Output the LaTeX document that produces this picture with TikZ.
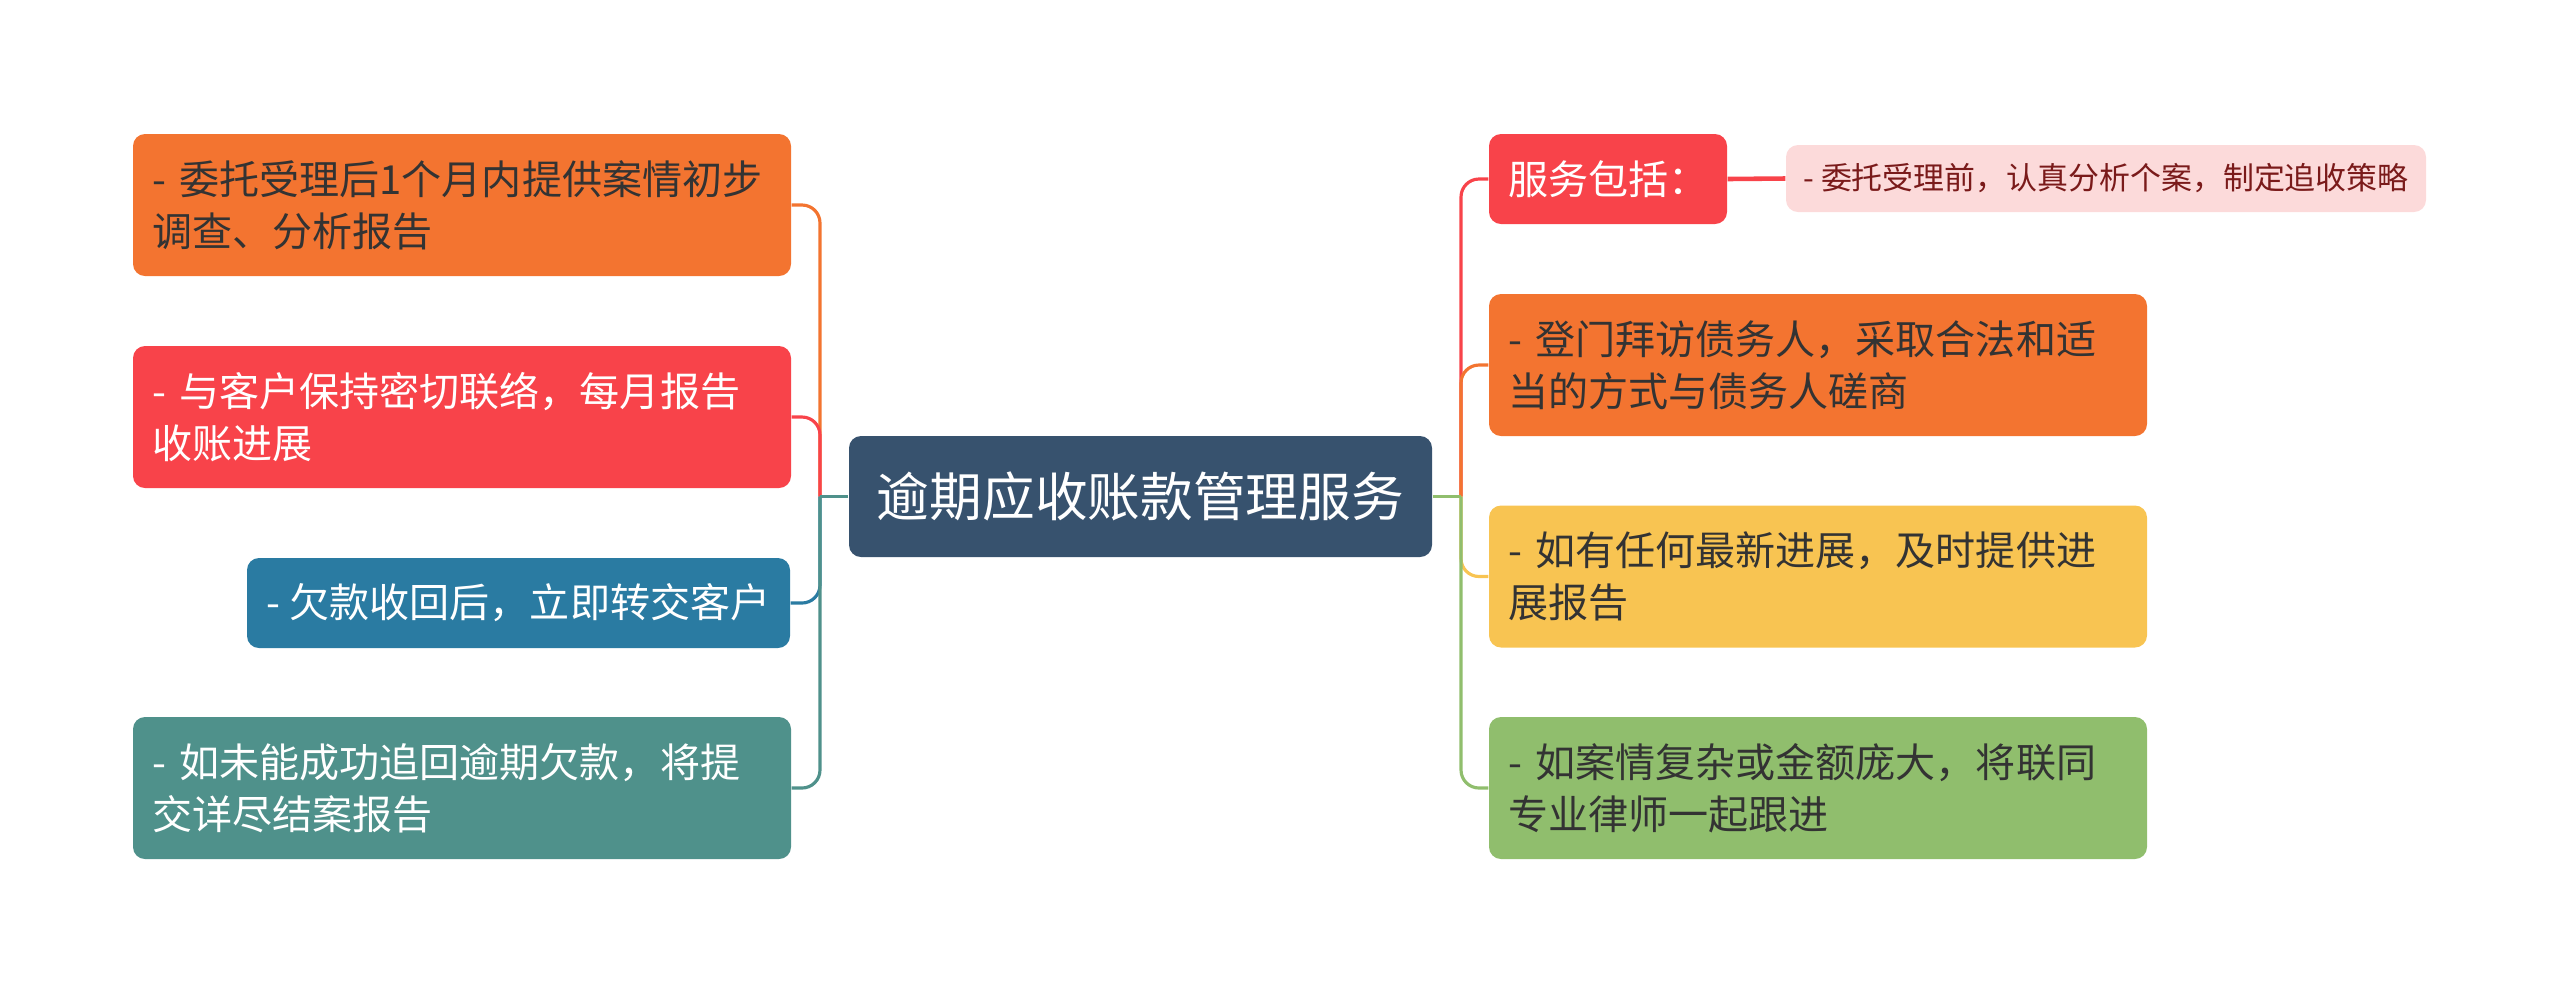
\documentclass[tikz,border=0pt]{standalone}
\usepackage{fontspec}
\setmainfont{Noto Sans CJK SC}

\definecolor{mmorange}{HTML}{F37430}
\definecolor{mmred}{HTML}{F8434A}
\definecolor{mmblue}{HTML}{2A7BA2}
\definecolor{mmteal}{HTML}{4F918B}
\definecolor{mmnavy}{HTML}{37526E}
\definecolor{mmyellow}{HTML}{F8C452}
\definecolor{mmgreen}{HTML}{90BE6D}
\definecolor{mmpink}{HTML}{FCDADA}
\definecolor{mmdark}{HTML}{7A1A1A}
\definecolor{mmtext}{HTML}{333333}

\begin{document}
\begin{tikzpicture}[
    box/.style={rectangle, rounded corners=0.12cm, inner xsep=0.19cm, inner ysep=0pt, align=left, text=mmtext, font=\fontsize{11.4}{14.8}\selectfont},
    twoline/.style={box, text width=6.2cm, minimum height=1.42cm},
    branch/.style={line width=0.9pt, rounded corners=0.18cm}
]
    \useasboundingbox (0,0) rectangle (25.6,-9.95);

    % Draw nodes
    \node[box, fill=mmnavy, text=white, align=center, minimum width=5.83cm, minimum height=1.21cm, font=\fontsize{15}{18}\selectfont] (root) at (11.405,-4.965) {逾期应收账款管理服务};

    \node[twoline, fill=mmorange] (l1) at (4.62,-2.05) {- 委托受理后1个月内提供案情初步\\调查、分析报告};
    \node[twoline, fill=mmred, text=white] (l2) at (4.62,-4.17) {- 与客户保持密切联络，每月报告\\收账进展};
    \node[box, fill=mmblue, text=white, align=center, minimum width=5.43cm, minimum height=0.9cm] (l3) at (5.185,-6.03) {- 欠款收回后，立即转交客户};
    \node[twoline, fill=mmteal, text=white] (l4) at (4.62,-7.88) {- 如未能成功追回逾期欠款，将提\\交详尽结案报告};

    \node[box, fill=mmred, text=white, text width=2.0cm, minimum height=0.9cm] (r1) at (16.08,-1.79) {服务包括：};
    \node[box, fill=mmpink, text=mmdark, align=center, inner xsep=0.14cm, minimum width=6.4cm, minimum height=0.67cm, font=\fontsize{8.8}{11}\selectfont] (r1a) at (21.06,-1.785) {- 委托受理前，认真分析个案，制定追收策略};
    \node[twoline, fill=mmorange] (r2) at (18.18,-3.65) {- 登门拜访债务人，采取合法和适\\当的方式与债务人磋商};
    \node[twoline, fill=mmyellow] (r3) at (18.18,-5.765) {- 如有任何最新进展，及时提供进\\展报告};
    \node[twoline, fill=mmgreen] (r4) at (18.18,-7.88) {- 如案情复杂或金额庞大，将联同\\专业律师一起跟进};

    % Junctions
    \coordinate (lj) at (8.20,-4.965);
    \coordinate (rj) at (14.61,-4.965);

    % Draw connections
    \draw[branch, mmorange] (lj) |- (l1.east);
    \draw[branch, mmred] (lj) |- (l2.east);
    \draw[branch, mmblue] (lj) |- (l3.east);
    \draw[branch, mmteal] (lj) |- (l4.east);
    \draw[branch, mmteal] (root.west) -- (lj);

    \draw[branch, mmred] (rj) |- (r1.west);
    \draw[branch, mmorange] (rj) |- (r2.west);
    \draw[branch, mmyellow] (rj) |- (r3.west);
    \draw[branch, mmgreen] (rj) |- (r4.west);
    \draw[branch, mmgreen] (root.east) -- (rj);

    \draw[branch, mmred, line width=1.3pt] (r1.east) -- (r1a.west);
\end{tikzpicture}
\end{document}
